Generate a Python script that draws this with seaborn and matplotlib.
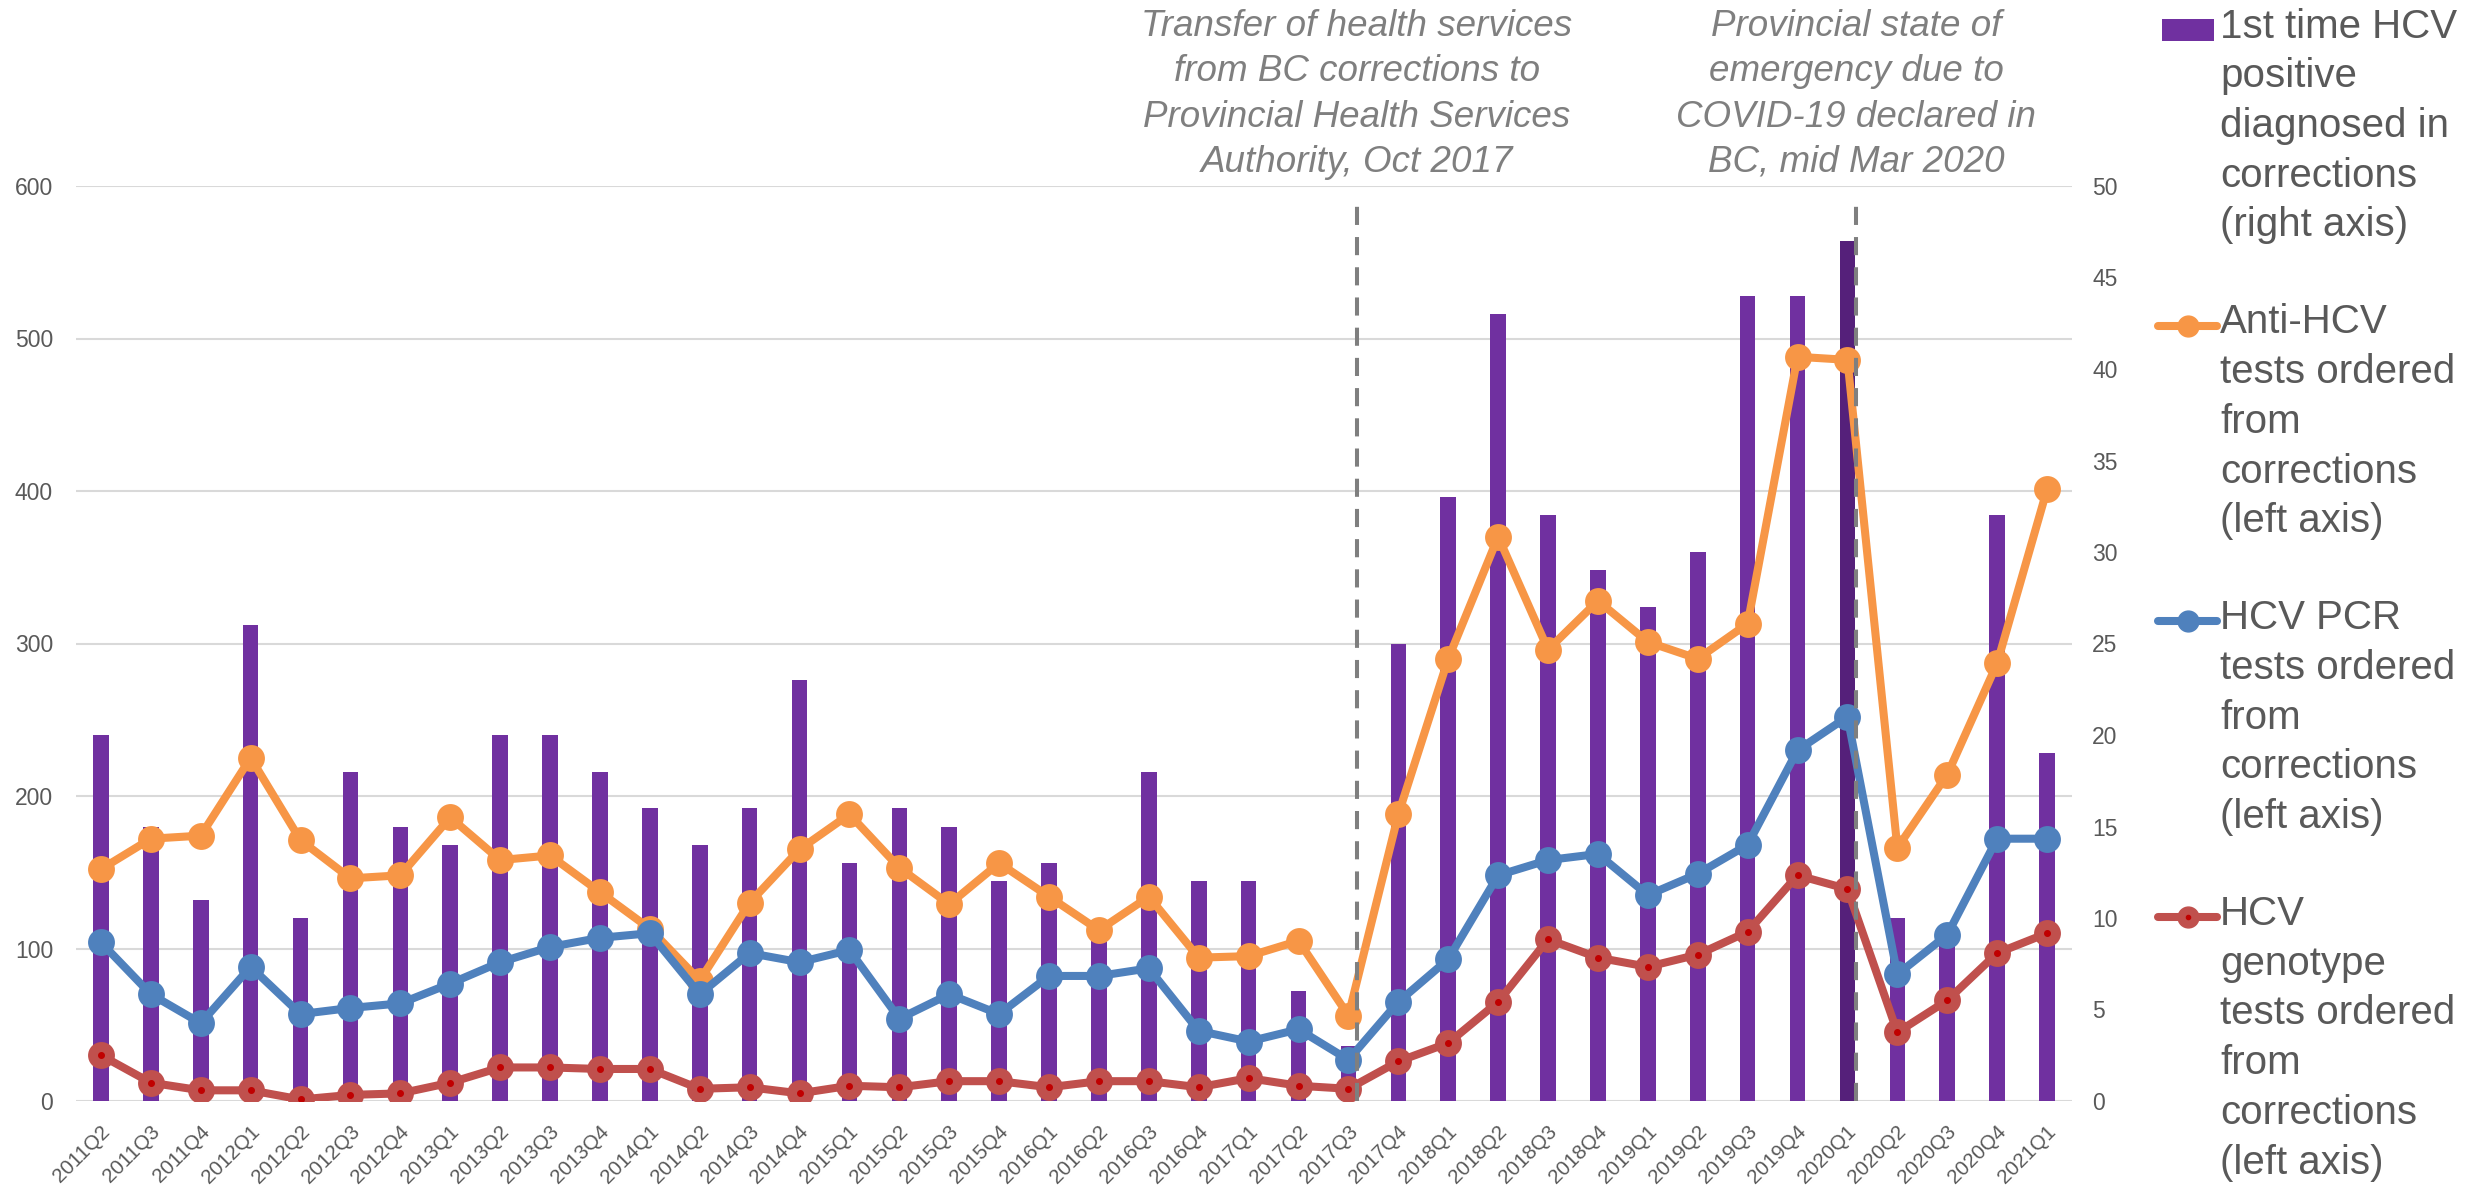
import matplotlib
matplotlib.use("Agg")
import matplotlib.pyplot as plt
from matplotlib.lines import Line2D
from matplotlib.patches import Rectangle
from matplotlib import transforms as mtrans
import seaborn as sns
import pandas as pd

# ---------------- data ----------------
quarters = ["2011Q2", "2011Q3", "2011Q4",
            "2012Q1", "2012Q2", "2012Q3", "2012Q4",
            "2013Q1", "2013Q2", "2013Q3", "2013Q4",
            "2014Q1", "2014Q2", "2014Q3", "2014Q4",
            "2015Q1", "2015Q2", "2015Q3", "2015Q4",
            "2016Q1", "2016Q2", "2016Q3", "2016Q4",
            "2017Q1", "2017Q2", "2017Q3", "2017Q4",
            "2018Q1", "2018Q2", "2018Q3", "2018Q4",
            "2019Q1", "2019Q2", "2019Q3", "2019Q4",
            "2020Q1", "2020Q2", "2020Q3", "2020Q4",
            "2021Q1"]

first_time_positive = [20, 15, 11, 26, 10, 18, 15, 14, 20, 20, 18, 16, 14,
                       16, 23, 13, 16, 15, 12, 13, 9, 18, 12, 12, 6, 3, 25,
                       33, 43, 32, 29, 27, 30, 44, 44, 47, 10, 9, 32, 19]

anti_hcv_tests = [152, 172, 174, 225, 171, 146, 148, 186, 158, 161, 137, 113, 79,
                  130, 165, 188, 153, 129, 156, 134, 112, 134, 94, 95, 105, 56, 188,
                  290, 370, 296, 328, 301, 290, 313, 488, 486, 166, 214, 287, 401]

pcr_tests = [104, 70, 51, 88, 57, 61, 64, 77, 91, 101, 107, 110, 70,
             97, 91, 99, 54, 70, 57, 82, 82, 87, 46, 39, 47, 27, 65,
             93, 148, 158, 162, 135, 149, 168, 230, 252, 83, 109, 172, 172]

genotype_tests = [30, 12, 7, 7, 1, 4, 5, 12, 22, 22, 21, 21, 8,
                  9, 5, 10, 9, 13, 13, 9, 13, 13, 9, 15, 10, 8, 26,
                  38, 65, 106, 94, 88, 96, 111, 148, 139, 45, 66, 97, 110]

left_ticks = [0, 100, 200, 300, 400, 500, 600]
right_ticks = [0, 5, 10, 15, 20, 25, 30, 35, 40, 45, 50]

highlight_quarter = "2020Q1"

event_quarters = ["2017Q3", "2020Q1"]
event_texts = ["Transfer of health services\nfrom BC corrections to\nProvincial Health Services\nAuthority, Oct 2017",
               "Provincial state of\nemergency due to\nCOVID-19 declared in\nBC, mid Mar 2020"]

legend_labels = ["1st time HCV\npositive\ndiagnosed in\ncorrections\n(right axis)",
                 "Anti-HCV\ntests ordered\nfrom\ncorrections\n(left axis)",
                 "HCV PCR\ntests ordered\nfrom\ncorrections\n(left axis)",
                 "HCV\ngenotype\ntests ordered\nfrom\ncorrections\n(left axis)"]

# ---------------- style ----------------
PURPLE = "#7030A0"
PURPLE_DARK = "#55207A"
ORANGE = "#F79646"
BLUE = "#4F81BD"
RED = "#C0504D"
RED_DOT = "#C00000"
GRID = "#D9D9D9"
TXT = "#595959"
ANN = "#7F7F7F"

sns.set_theme(style="white")
plt.rcParams["font.family"] = ["Liberation Sans", "DejaVu Sans"]

W, H = 2478, 1185
DPI = 100
fig = plt.figure(figsize=(W / DPI, H / DPI), dpi=DPI)


def fx(px):
    return px / W


def fy(py):
    return 1 - py / H


def pt2px(pt):
    return pt * DPI / 72.0


AX_L, AX_R, AX_T, AX_B = 76, 2072, 186, 1101
ax = fig.add_axes([fx(AX_L), fy(AX_B), (AX_R - AX_L) / W, (AX_B - AX_T) / H])
axL = ax.twinx()

df = pd.DataFrame({
    "quarter": quarters,
    "positive": first_time_positive,
    "anti": anti_hcv_tests,
    "pcr": pcr_tests,
    "genotype": genotype_tests,
})

scale = right_ticks[-1] / left_ticks[-1]
for v in left_ticks:
    ax.axhline(v * scale, color=GRID, lw=1.5, zorder=0)

BAR_W = 0.313
palette = {q: (PURPLE_DARK if q == highlight_quarter else PURPLE) for q in quarters}
sns.barplot(data=df, x="quarter", y="positive", hue="quarter", palette=palette,
            legend=False, width=BAR_W, saturation=1, linewidth=0, ax=ax, zorder=2)

LW = 5.8
MS = 15
sns.pointplot(data=df, x="quarter", y="anti", color=ORANGE, markers="o",
              markersize=MS, linewidth=LW, errorbar=None, ax=axL)
sns.pointplot(data=df, x="quarter", y="pcr", color=BLUE, markers="o",
              markersize=MS, linewidth=LW, errorbar=None, ax=axL)
sns.pointplot(data=df, x="quarter", y="genotype", color=RED, markers="o",
              markersize=MS, linewidth=LW, errorbar=None, ax=axL)
sns.pointplot(data=df, x="quarter", y="genotype", color=RED_DOT, markers="o",
              markersize=3, linestyles="none", errorbar=None, ax=axL)

# axes limits / ticks
ax.set_xlim(-0.5, len(quarters) - 0.5)
ax.set_ylim(0, right_ticks[-1])
axL.set_ylim(0, left_ticks[-1])
ax.set_yticks(right_ticks)
axL.set_yticks(left_ticks)
ax.yaxis.tick_right()
axL.yaxis.tick_left()
ax.set_xticks(range(len(quarters)))
ax.set_xticklabels(quarters, rotation=45, ha="right", va="center",
                   rotation_mode="anchor")
for a in (ax, axL):
    a.set_xlabel("")
    a.set_ylabel("")
    for s in a.spines.values():
        s.set_visible(False)
ax.tick_params(axis="x", length=0, labelsize=14.8, labelcolor=TXT, pad=20)
ax.tick_params(axis="y", length=0, labelsize=16.5, labelcolor=TXT, pad=14.5)
axL.tick_params(axis="y", length=0, labelsize=16.5, labelcolor=TXT, pad=16.5)
shift = mtrans.ScaledTranslation(6 / DPI, 0, fig.dpi_scale_trans)
for lab in ax.get_xticklabels():
    lab.set_transform(lab.get_transform() + shift)

# event markers
ASC = 0.87  # matplotlib's first-line ascent, in em
EVENT_OFFSET = BAR_W / 2 + 0.014
ANN_FS = 26.5
ANN_BASE0 = 40.7
blend = mtrans.blended_transform_factory(axL.transData, fig.transFigure)
for q, txt in zip(event_quarters, event_texts):
    xe = quarters.index(q) + EVENT_OFFSET
    axL.axvline(xe, ymin=0, ymax=0.99, color=ANN, lw=2.9, dashes=(4.5, 3.0), zorder=10)
    fig.text(xe, fy(ANN_BASE0 - ASC * pt2px(ANN_FS)), txt, transform=blend,
             ha="center", va="top", fontsize=ANN_FS, style="italic", color=ANN,
             linespacing=1.386)

# legend (manual, handles aligned to first text line)
LEG_FS = 29
LEG_BASE0 = 42.7
LEG_STEP = 295.8
TEXT_X = 2220
for i, lab in enumerate(legend_labels):
    base = LEG_BASE0 + i * LEG_STEP
    yc = base - 13
    fig.text(fx(TEXT_X), fy(base - ASC * pt2px(LEG_FS)), lab, ha="left", va="top",
             fontsize=LEG_FS, color=TXT, linespacing=1.39)
    if i == 0:
        fig.add_artist(Rectangle((fx(2162), fy(yc + 11)), fx(2214) - fx(2162),
                                 22 / H, transform=fig.transFigure,
                                 facecolor=PURPLE, edgecolor="none"))
    else:
        col = [ORANGE, BLUE, RED][i - 1]
        fig.add_artist(Line2D([fx(2158), fx(2187.5), fx(2217)], [fy(yc)] * 3,
                              transform=fig.transFigure, color=col, lw=LW,
                              marker="o", markersize=MS, markevery=[1],
                              solid_capstyle="round"))
        if i == 3:
            fig.add_artist(Line2D([fx(2187.5)], [fy(yc)], transform=fig.transFigure,
                                  color=RED_DOT, marker="o", markersize=3, lw=0))

fig.savefig("out.png", dpi=DPI)
